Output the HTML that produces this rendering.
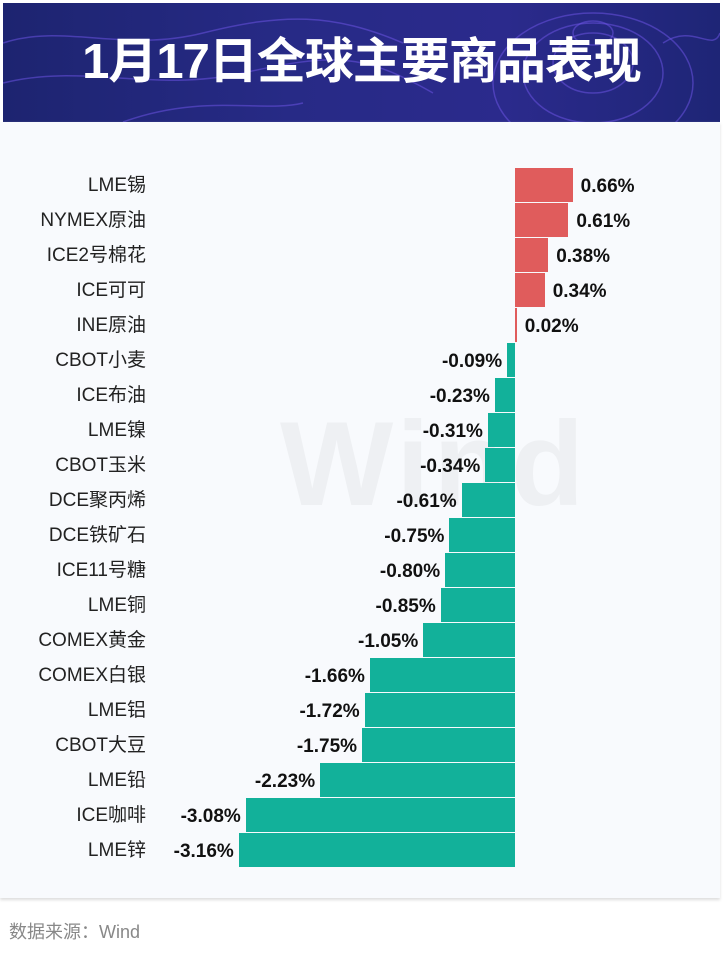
<!DOCTYPE html>
<html><head><meta charset="utf-8"><style>
body{margin:0;width:725px;height:954px;background:#fff;position:relative;overflow:hidden;font-family:"Liberation Sans","Noto Sans CJK SC",sans-serif}
#hdr{position:absolute;left:3px;top:3px;width:717px;height:119px;background:linear-gradient(90deg,#1d2470,#272a86 40%,#2b2a8c 70%,#1e2576);overflow:hidden}
#hdr h1{margin:0;position:absolute;left:0;width:100%;top:28px;text-align:center;color:#fff;font-size:49px;font-weight:bold;letter-spacing:-1px;line-height:62px}
#panel{position:absolute;left:0;top:122px;width:720px;height:776px;background:#f8fafd;box-shadow:0 2px 3px #ddd}
.lab{position:absolute;right:579px;font-size:19px;color:#222;height:34px;line-height:36px;white-space:nowrap}
.bar{position:absolute;height:34px}
.val{position:absolute;font-size:19px;font-weight:bold;color:#111;height:34px;line-height:36px;white-space:nowrap}
#wm{position:absolute;left:280px;top:395px;font-size:120px;font-weight:bold;color:#eef0f3;letter-spacing:4px}
#src{position:absolute;left:9px;top:918px;font-size:18px;color:#888}
</style></head><body>
<div id="hdr">
<svg width="717" height="119" style="position:absolute;left:0;top:0" fill="none" stroke="#6a52e0" stroke-opacity=".55" stroke-width="1.5">
<ellipse cx="590" cy="60" rx="40" ry="30"/><ellipse cx="590" cy="70" rx="70" ry="50"/><ellipse cx="590" cy="80" rx="100" ry="70"/><ellipse cx="590" cy="30" rx="20" ry="12"/>
<path d="M0 40 C60 20 120 50 200 30 S330 10 400 40"/><path d="M0 80 C80 60 150 90 240 70 S360 50 430 90"/><path d="M120 119 C200 90 260 110 300 100"/><path d="M660 40 C690 20 710 50 717 30"/>
</svg>
<h1>1月17日全球主要商品表现</h1></div>
<div id="panel"></div>
<div id="wm">Wind</div>
<div id="rows"></div>
<div id="src">数据来源：Wind</div>
<script>
var d=[["LME锡",.66],["NYMEX原油",.61],["ICE2号棉花",.38],["ICE可可",.34],["INE原油",.02],["CBOT小麦",-.09],["ICE布油",-.23],["LME镍",-.31],["CBOT玉米",-.34],["DCE聚丙烯",-.61],["DCE铁矿石",-.75],["ICE11号糖",-.80],["LME铜",-.85],["COMEX黄金",-1.05],["COMEX白银",-1.66],["LME铝",-1.72],["CBOT大豆",-1.75],["LME铅",-2.23],["ICE咖啡",-3.08],["LME锌",-3.16]];
var h="",z=515,s=87.4;
d.forEach(function(r,i){var t=168+35*i,w=Math.max(1,Math.abs(r[1])*s);
h+='<div class="lab" style="top:'+t+'px">'+r[0]+'</div>';
if(r[1]>=0){h+='<div class="bar" style="background:#e05c5c;left:'+z+'px;top:'+t+'px;width:'+w+'px"></div><div class="val" style="top:'+(t+1)+'px;left:'+(z+w+8)+'px">'+r[1].toFixed(2)+'%</div>';}
else{h+='<div class="bar" style="background:#12b19a;left:'+(z-w)+'px;top:'+t+'px;width:'+w+'px"></div><div class="val" style="top:'+(t+1)+'px;right:'+(725-(z-w)+5)+'px">'+r[1].toFixed(2)+'%</div>';}
});
document.getElementById("rows").innerHTML=h;
</script>
</body></html>
